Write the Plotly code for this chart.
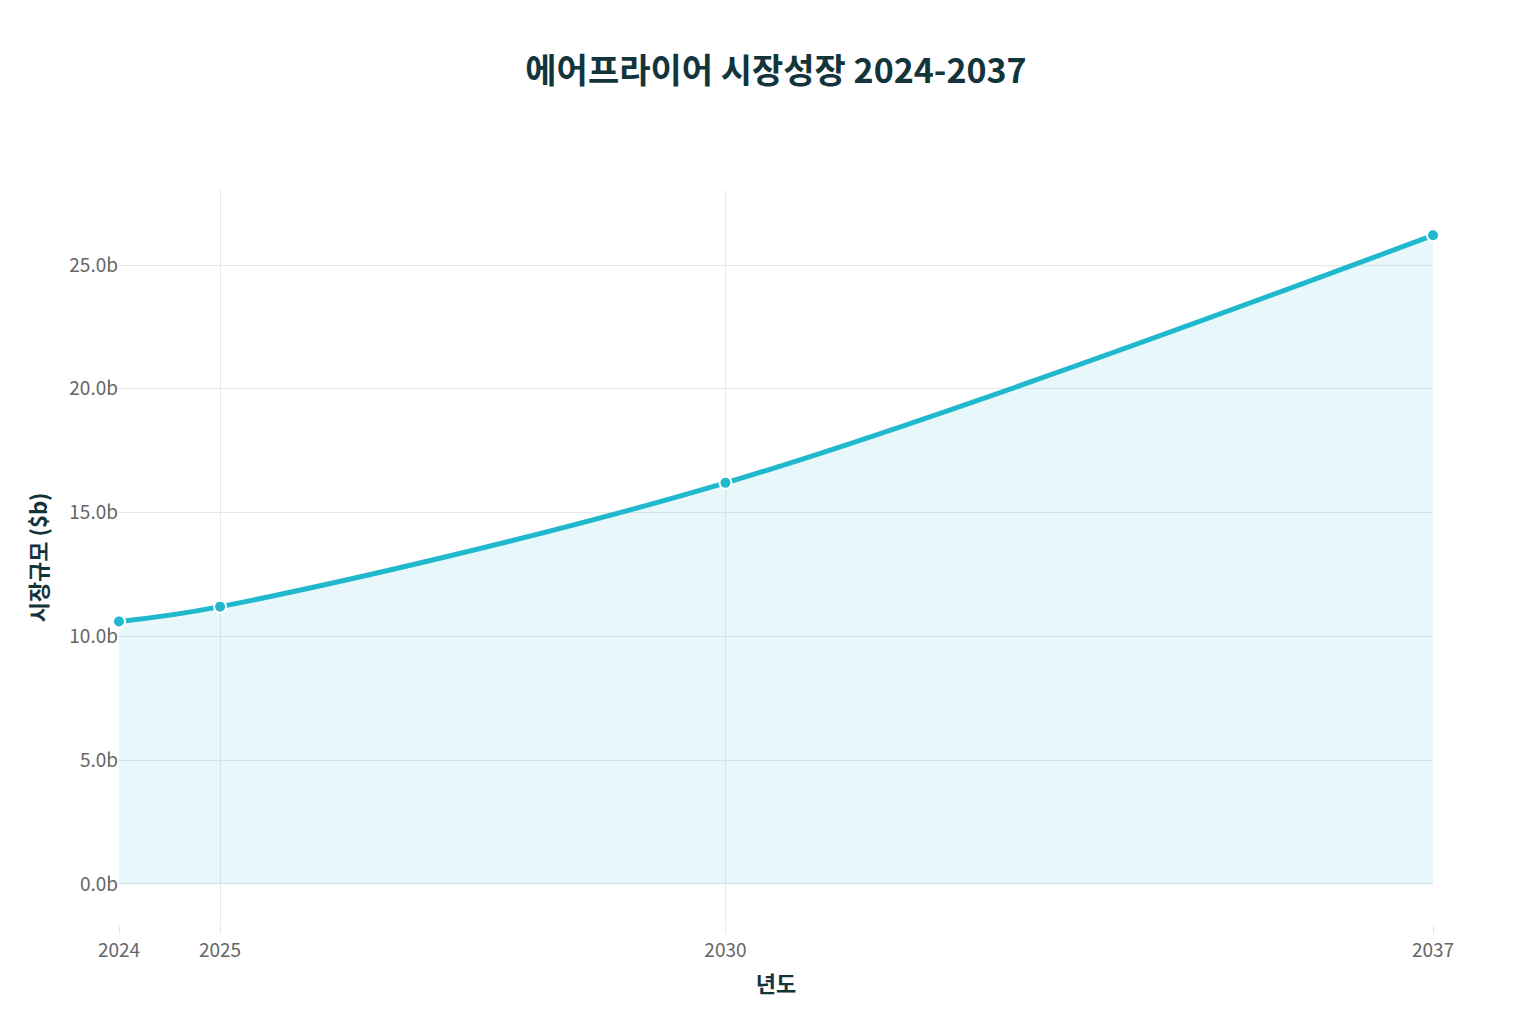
import plotly.graph_objects as go

years = [2024, 2025, 2030, 2037]
market_size = [10.6, 11.2, 16.2, 26.2]
y_ticks = [0, 5, 10, 15, 20, 25]
y_labels = ["0.0b", "5.0b", "10.0b", "15.0b", "20.0b", "25.0b"]

fig = go.Figure()
fig.add_trace(go.Scatter(
    x=years, y=market_size,
    mode="lines+markers",
    line=dict(color="#1FB8CD", width=5, shape="spline"),
    marker=dict(size=12, color="#1FB8CD", line=dict(color="white", width=2)),
    fill="tozeroy",
    fillcolor="rgba(31,184,205,0.1)",
    cliponaxis=False,
))

fig.update_layout(
    title=dict(text="<b>에어프라이어 시장성장 2024-2037</b>", x=0.5, y=0.95,
               font=dict(size=34, color="#13343B")),
    font=dict(family="Noto Sans CJK KR, Inter", size=16, color="#13343B"),
    plot_bgcolor="white", paper_bgcolor="white",
    width=1536, height=1024,
    margin=dict(l=111, r=111, t=182, b=107),
    showlegend=False,
)
fig.update_xaxes(
    title=dict(text="<b>년도</b>", font=dict(size=22)),
    tickvals=years, ticktext=[str(y) for y in years],
    range=[2024, 2037], showgrid=True, gridcolor="#E5E8EA",
    zeroline=False, ticks="outside", tickcolor="#E5E8EA", ticklen=8,
    tickfont=dict(size=19, color="#666"),
)
fig.update_yaxes(
    title=dict(text="<b>시장규모 ($b)</b>", font=dict(size=22)),
    range=[-1.66, 28.03], tickvals=y_ticks, ticktext=y_labels,
    showgrid=True, gridcolor="#E5E8EA",
    zeroline=False, tickfont=dict(size=19, color="#666"),
)
fig.write_html("out.html")
